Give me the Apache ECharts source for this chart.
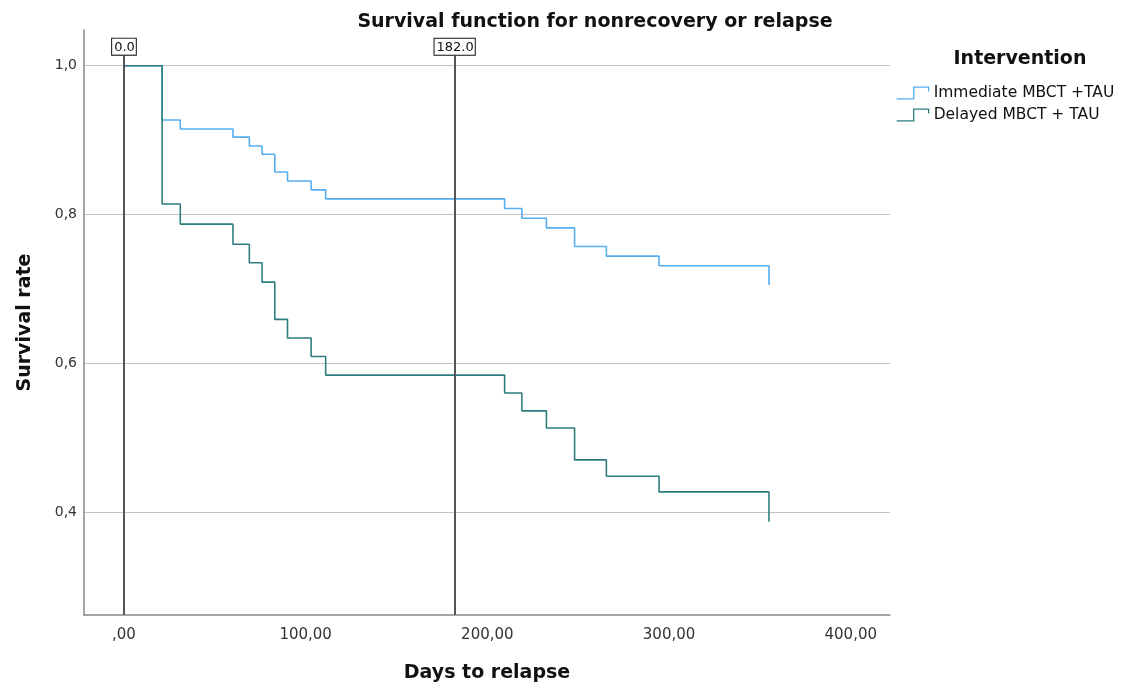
<!DOCTYPE html>
<html>
<head>
<meta charset="utf-8">
<script src="https://cdn.jsdelivr.net/npm/echarts@6/dist/echarts.min.js"></script>
<style>
  html, body { margin: 0; padding: 0; background: #fff; }
  #chart { width: 1148px; height: 688px; }
</style>
</head>
<body>
<div id="chart"></div>
<script>
// Kaplan-Meier step points: [days, survival]
const immediateDays = [0, 21, 31, 60, 69, 76, 83, 90, 103, 111, 209.5, 219, 232.5, 248, 265.5, 294.5, 355]
const immediateRate = [1.0, 0.927, 0.915, 0.904, 0.892, 0.881, 0.857, 0.845, 0.833, 0.821, 0.808, 0.795, 0.782, 0.757, 0.744, 0.731, 0.705]

const delayedDays = [0, 0, 21, 31, 60, 69, 76, 83, 90, 103, 111, 209.5, 219, 232.5, 248, 265.5, 294.5, 355]
const delayedRate = [0.867, 1.0, 0.814, 0.787, 0.760, 0.735, 0.709, 0.659, 0.634, 0.609, 0.584, 0.560, 0.536, 0.513, 0.470, 0.448, 0.427, 0.387]

const seriesNames = ['Immediate MBCT +TAU', 'Delayed MBCT + TAU']
const seriesColors = ['#55aef0', '#2e7e80']
const refDays = [0, 182]

const xRange = [-22, 421.6]
const yRange = [0.2615, 1.048]

const zip = (xs, ys) => xs.map((x, i) => [x, ys[i]])
const comma = (v, d) => v.toFixed(d).replace('.', ',')
const boldText = { fontFamily: 'DejaVu Sans', fontWeight: 'bold', fontSize: 19, color: '#111' }

const chart = echarts.init(document.getElementById('chart'), null, { renderer: 'canvas' })

chart.setOption({
  animation: false,
  backgroundColor: '#fff',
  title: [
    { text: 'Survival function for nonrecovery or relapse', left: 590, top: 8, textAlign: 'center', textStyle: boldText },
    { text: 'Intervention', left: 1015, top: 45, textAlign: 'center', textStyle: boldText },
  ],
  legend: {
    orient: 'vertical',
    left: 891, top: 80,
    itemGap: 6,
    itemWidth: 32, itemHeight: 13,
    icon: 'path://M0,12 L16,12 L16,1 L30,1 L30,5',
    textStyle: { fontFamily: 'DejaVu Sans', fontSize: 15.5, color: '#111' },
    data: seriesNames.map((name, i) => ({
      name,
      itemStyle: { color: 'rgba(0,0,0,0)', borderColor: seriesColors[i], borderWidth: 1.3 },
    })),
  },
  grid: { left: 84, right: 258, top: 30, bottom: 73, containLabel: false },
  xAxis: {
    type: 'value',
    min: xRange[0], max: xRange[1],
    name: 'Days to relapse', nameLocation: 'middle', nameGap: 49,
    nameTextStyle: boldText,
    axisLine: { onZero: false, lineStyle: { color: '#888', width: 1.5 } },
    axisTick: { show: false },
    splitLine: { show: false },
    axisLabel: {
      showMinLabel: false, showMaxLabel: false, margin: 13,
      fontFamily: 'DejaVu Sans', fontSize: 15, color: '#333',
      formatter: v => (v === 0 ? ',00' : comma(v, 2)),
    },
  },
  yAxis: {
    type: 'value',
    min: yRange[0], max: yRange[1],
    name: 'Survival rate', nameLocation: 'middle', nameGap: 49, nameRotate: 90,
    nameTextStyle: boldText,
    axisLine: { show: true, onZero: false, lineStyle: { color: '#888', width: 1.5 } },
    axisTick: { show: false },
    splitLine: { show: true, showMinLine: false, showMaxLine: false, lineStyle: { color: '#c4c4c4', width: 1.2 } },
    axisLabel: {
      showMinLabel: false, showMaxLabel: false, margin: 7,
      fontFamily: 'DejaVu Sans', fontSize: 14, color: '#333',
      formatter: v => comma(v, 1),
    },
  },
  series: [
    {
      name: seriesNames[0],
      type: 'line',
      step: 'end',
      showSymbol: false,
      color: seriesColors[0],
      lineStyle: { color: seriesColors[0], width: 1.6 },
      data: zip(immediateDays, immediateRate),
    },
    {
      name: seriesNames[1],
      type: 'line',
      step: 'end',
      showSymbol: false,
      color: seriesColors[1],
      lineStyle: { color: seriesColors[1], width: 1.6 },
      data: zip(delayedDays, delayedRate),
      markLine: {
        silent: true,
        symbol: 'none',
        z: 10,
        lineStyle: { color: '#555', width: 2, type: 'solid' },
        label: {
          show: true, position: 'end', distance: 1,
          formatter: p => p.value,
          fontFamily: 'DejaVu Sans', fontSize: 13, color: '#111',
          backgroundColor: '#fff', borderColor: '#111', borderWidth: 1, padding: [2, 1, 1, 2],
        },
        data: refDays.map(d => [
          { coord: [d, yRange[0]], value: d.toFixed(1) },
          { coord: [d, 1.0135] },
        ]),
      },
    },
  ],
})
</script>
</body>
</html>
